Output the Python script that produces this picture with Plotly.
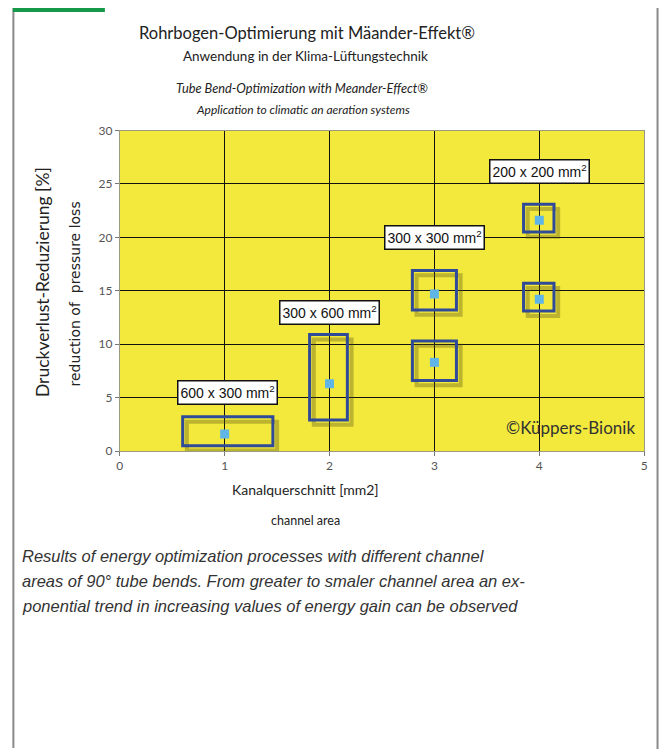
import plotly.graph_objects as go

# ---------------- data ----------------
x_vals = [1, 2, 3, 3, 4, 4]
y_vals = [1.6, 6.3, 14.7, 8.3, 21.6, 14.2]

# rectangle bounds around each point (data units)
rect_x0 = [0.60, 1.81, 2.79, 2.79, 3.85, 3.85]
rect_x1 = [1.46, 2.17, 3.21, 3.21, 4.14, 4.14]
rect_y0 = [0.5, 2.9, 13.2, 6.6, 20.5, 13.1]
rect_y1 = [3.2, 10.9, 16.9, 10.3, 23.1, 15.7]

label_text = ["600 x 300 mm<sup>2</sup>", "300 x 600 mm<sup>2</sup>",
              "300 x 300 mm<sup>2</sup>", "200 x 200 mm<sup>2</sup>"]
label_x = [1.03, 2.0, 3.0, 4.0]
label_y = [5.5, 13.0, 20.0, 26.2]

x_ticks = [0, 1, 2, 3, 4, 5]
y_ticks = [0, 5, 10, 15, 20, 25, 30]

title_lines = ["Rohrbogen-Optimierung mit Mäander-Effekt®",
               "Anwendung in der Klima-Lüftungstechnik"]
title_en = ["Tube Bend-Optimization with Meander-Effect®",
            "Application to climatic an aeration systems"]
caption = ["Results of energy optimization processes with different channel",
           "areas of 90° tube bends. From greater to smaler channel area an ex-",
           "ponential trend in increasing values of energy gain can be observed"]

# ---------------- layout helpers ----------------
W, H = 665, 756
def px_x(p):
    return p / W
def px_y(p):
    return 1 - p / H

SANS = "Lato, Open Sans, sans-serif"
NARROW = "Liberation Sans, Arial, sans-serif"
WIDE = "DejaVu Sans, sans-serif"

fig = go.Figure()

fig.add_trace(go.Scatter(
    x=x_vals, y=y_vals, mode="markers",
    marker=dict(symbol="square", size=9, color="#5fb6e6"),
    showlegend=False, hoverinfo="x+y"))

shapes = []
# frame lines
shapes.append(dict(type="line", xref="paper", yref="paper",
                   x0=px_x(10.5), x1=px_x(10.5), y0=px_y(0), y1=px_y(755),
                   line=dict(color="#8a8a8a", width=2)))
shapes.append(dict(type="line", xref="paper", yref="paper",
                   x0=px_x(661.5), x1=px_x(661.5), y0=px_y(0), y1=px_y(756),
                   line=dict(color="#8a8a8a", width=2)))
shapes.append(dict(type="rect", xref="paper", yref="paper",
                   x0=px_x(10), x1=px_x(103), y0=px_y(0), y1=px_y(4),
                   fillcolor="#17994a", line=dict(width=0)))

# rectangle shadows + rectangles
for a, b, c, d in zip(rect_x0, rect_x1, rect_y0, rect_y1):
    shapes.append(dict(type="rect", xref="x", yref="y",
                       x0=a + 0.04, x1=b + 0.04, y0=c - 0.45, y1=d - 0.45,
                       line=dict(color="rgba(90,80,20,0.35)", width=4),
                       layer="above"))
for a, b, c, d in zip(rect_x0, rect_x1, rect_y0, rect_y1):
    shapes.append(dict(type="rect", xref="x", yref="y",
                       x0=a, x1=b, y0=c, y1=d,
                       line=dict(color="#2f4a98", width=3),
                       layer="above"))

annotations = []
for t, lx, ly in zip(label_text, label_x, label_y):
    annotations.append(dict(x=lx, y=ly, xref="x", yref="y", text=t,
                            showarrow=False,
                            font=dict(family=NARROW, size=14, color="#111"),
                            bgcolor="white", bordercolor="#111", borderwidth=1.5,
                            borderpad=2))

annotations.append(dict(x=4.93, y=2.2, xref="x", yref="y", text="©Küppers-Bionik",
                        showarrow=False, xanchor="right",
                        font=dict(family=SANS, size=17, color="#333")))

def paper_text(text, px, py, size, family=SANS, angle=0, anchor="center", color="#222"):
    return dict(x=px_x(px), y=px_y(py), xref="paper", yref="paper",
                text=text, showarrow=False, textangle=angle,
                xanchor=anchor, yanchor="middle",
                font=dict(family=family, size=size, color=color))

# titles
annotations.append(paper_text(title_lines[0], 307, 25, 16.5))
annotations.append(paper_text(title_lines[1], 306, 49, 13.5))
annotations.append(paper_text("<i>" + title_en[0] + "</i>", 302, 82, 12.8))
annotations.append(paper_text("<i>" + title_en[1] + "</i>", 303, 104, 12))

# axis titles
annotations.append(paper_text("Kanalquerschnitt [mm2]", 306, 491, 14))
annotations.append(paper_text("channel area", 306, 523, 12.5))
annotations.append(paper_text("Druckverlust-Reduzierung [%]", 40, 280, 17.5, angle=-90))
annotations.append(paper_text("reduction of  pressure loss", 73, 292, 14,
                              family=WIDE, angle=-90))

# caption
for i, line in enumerate(caption):
    annotations.append(paper_text("<i>" + line + "</i>", 17, 559 + i * 25.5, 16.5,
                                  family=NARROW, anchor="left", color="#333"))

fig.update_layout(
    width=W, height=H,
    margin=dict(l=0, r=0, t=0, b=0),
    paper_bgcolor="white",
    plot_bgcolor="#f2e93c",
    showlegend=False,
    shapes=shapes,
    annotations=annotations,
    xaxis=dict(domain=[px_x(118), px_x(648)], range=[0, 5],
               tickvals=x_ticks, ticktext=[str(v) for v in x_ticks],
               showgrid=True, gridcolor="#111", gridwidth=1,
               zeroline=False, showline=True, linecolor="#9a9a80", linewidth=1,
               mirror=True, ticks="outside", ticklen=4, tickcolor="#777",
               tickfont=dict(family=SANS, size=12, color="#555")),
    yaxis=dict(domain=[px_y(452), px_y(125)], range=[0, 30],
               tickvals=y_ticks, ticktext=[str(v) for v in y_ticks],
               showgrid=True, gridcolor="#111", gridwidth=1,
               zeroline=False, showline=True, linecolor="#9a9a80", linewidth=1,
               mirror=True, ticks="outside", ticklen=4, tickcolor="#777",
               tickfont=dict(family=SANS, size=12, color="#555")),
)

fig.write_html("out.html",
               config={"displayModeBar": False},
               post_script="document.body.style.margin='0px';"
                           "document.body.style.overflow='hidden';")
